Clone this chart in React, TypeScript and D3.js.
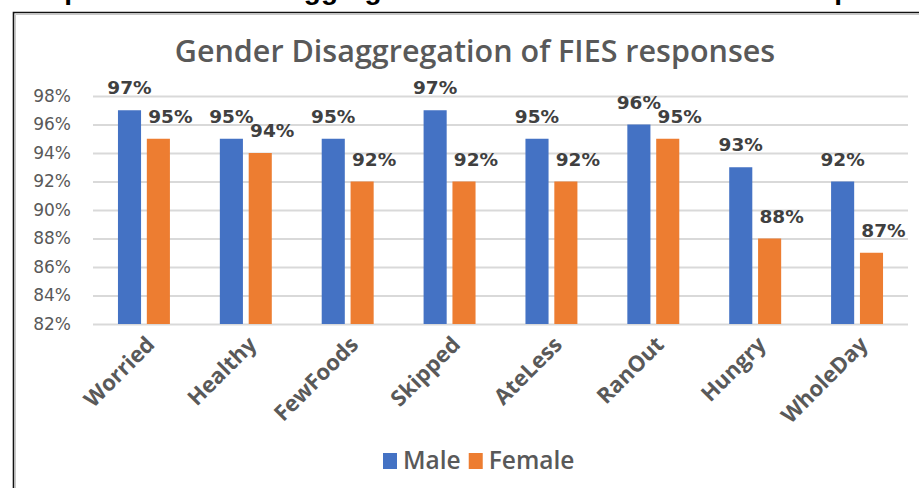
import { useEffect, useRef } from "react";
import * as d3 from "d3";

const categories = ["Worried", "Healthy", "FewFoods", "Skipped", "AteLess", "RanOut", "Hungry", "WholeDay"];
const series = ["Male", "Female"];
const maleValues = [97, 95, 95, 97, 95, 96, 93, 92];
const femaleValues = [95, 94, 92, 92, 92, 95, 88, 87];
const yTicks = [82, 84, 86, 88, 90, 92, 94, 96, 98];
const colors = ["#4472C4", "#ED7D31"];

const chartTitle = "Gender Disaggregation of FIES responses";
const pageHeading = "Graph 4: Gender Disaggregation of FIES Module Indicator responses";

export default function App() {
  const svgRef = useRef<SVGSVGElement | null>(null);

  useEffect(() => {
    document.body.style.margin = "0";
    if (!svgRef.current) return;
    const width = 919;
    const height = 488;
    const svg = d3.select(svgRef.current);
    svg.selectAll("*").remove();

    svg.append("rect").attr("width", width).attr("height", height).attr("fill", "#fff");

    // cropped heading of the document above the chart
    svg.append("text")
      .attr("x", 16)
      .attr("y", -1)
      .attr("font-family", "Liberation Sans, Arial, sans-serif")
      .attr("font-weight", "bold")
      .attr("font-size", 28)
      .attr("fill", "#000")
      .text(pageHeading);

    // chart frame (only top and left edges are in view)
    svg.append("path")
      .attr("d", `M13.5,${height} V12.5 H${width}`)
      .attr("fill", "none")
      .attr("stroke", "#111")
      .attr("stroke-width", 1.6);
    svg.append("path")
      .attr("d", `M15.5,${height} V14.5 H${width}`)
      .attr("fill", "none")
      .attr("stroke", "#c8c8c8")
      .attr("stroke-width", 1);

    const margin = { left: 93, right: 11, top: 96, bottom: 164 };
    const x0 = d3.scaleBand<string>()
      .domain(categories)
      .range([margin.left, width - margin.right]);
    const x1 = d3.scaleBand<string>()
      .domain(series)
      .range([x0.bandwidth() * 0.245, x0.bandwidth() * 0.755])
      .paddingInner(0.2);
    const y = d3.scaleLinear().domain([82, 98]).range([height - margin.bottom, margin.top]);

    // title
    svg.append("text")
      .attr("x", 475)
      .attr("y", 62)
      .attr("text-anchor", "middle")
      .attr("font-family", "Open Sans, sans-serif")
      .attr("font-weight", 600)
      .attr("font-size", 30.5)
      .attr("fill", "#595959")
      .text(chartTitle);

    // gridlines
    svg.append("g")
      .attr("transform", `translate(${margin.left},0)`)
      .call(d3.axisLeft(y).tickValues(yTicks).tickSize(-(width - margin.left - margin.right)).tickFormat(() => ""))
      .call(g => g.select(".domain").remove())
      .call(g => g.selectAll("line").attr("stroke", "#d9d9d9").attr("stroke-width", 2));

    // y labels
    svg.append("g")
      .attr("transform", `translate(71,0)`)
      .call(d3.axisLeft(y).tickValues(yTicks).tickSize(0).tickPadding(0).tickFormat(d => `${d}%`))
      .call(g => g.select(".domain").remove())
      .call(g => g.selectAll("text")
        .attr("font-family", "DejaVu Sans, sans-serif")
        .attr("font-size", 17)
        .attr("fill", "#595959"));

    const valueSets = [maleValues, femaleValues];
    const groups = svg.append("g");
    categories.forEach((cat, i) => {
      series.forEach((s, j) => {
        const v = valueSets[j][i];
        const bx = (x0(cat) ?? 0) + (x1(s) ?? 0);
        groups.append("rect")
          .attr("x", bx)
          .attr("y", y(v))
          .attr("width", x1.bandwidth())
          .attr("height", y(82) - y(v))
          .attr("fill", colors[j]);
        groups.append("text")
          .attr("x", bx + x1.bandwidth() / 2 + (j === 1 ? 12 : 0))
          .attr("y", y(v) - 16)
          .attr("text-anchor", "middle")
          .attr("font-family", "DejaVu Sans, sans-serif")
          .attr("font-weight", "bold")
          .attr("font-size", 18.5)
          .attr("fill", "#404040")
          .text(`${v}%`);
      });
    });

    // category labels
    svg.append("g")
      .selectAll("text")
      .data(categories)
      .join("text")
      .attr("transform", d => `translate(${(x0(d) ?? 0) + x0.bandwidth() / 2 + 12},346) rotate(-45)`)
      .attr("text-anchor", "end")
      .attr("font-family", "Open Sans, sans-serif")
      .attr("font-weight", "bold")
      .attr("font-size", 22)
      .attr("fill", "#595959")
      .text(d => d);

    // legend
    const legend = svg.append("g").attr("transform", "translate(383,453)");
    let lx = 0;
    series.forEach((s, j) => {
      legend.append("rect").attr("x", lx).attr("y", 0).attr("width", 14).attr("height", 16).attr("fill", colors[j]);
      const t = legend.append("text")
        .attr("x", lx + 20)
        .attr("y", 16)
        .attr("font-family", "Open Sans, sans-serif")
        .attr("font-weight", 600)
        .attr("font-size", 24.5)
        .attr("fill", "#595959")
        .text(s);
      const w = (t.node() as SVGTextElement).getComputedTextLength();
      lx += 20 + w + 8;
    });
  }, []);

  return <svg ref={svgRef} width={919} height={488} style={{ display: "block" }} />;
}
